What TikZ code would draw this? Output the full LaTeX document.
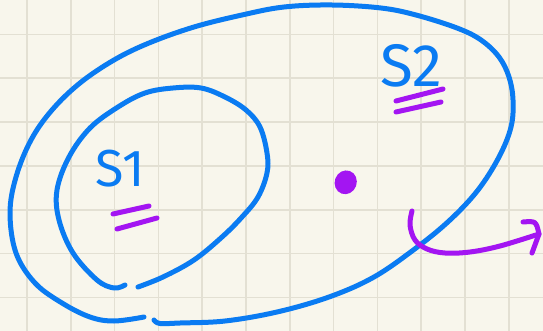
\documentclass[tikz,border=0pt]{standalone}
\usepackage{fontspec}
\setsansfont{Fira Sans}
\definecolor{paper}{HTML}{F8F6EC}
\definecolor{gridline}{HTML}{E3E0D3}
\definecolor{inkblue}{HTML}{0A7BF2}
\definecolor{inkpurple}{HTML}{A315F2}

\begin{document}
\begin{tikzpicture}[x=1pt, y=-1pt, line cap=round, line join=round]
\tikzset{ink/.style={draw=inkblue, line width=5pt},
  pen/.style={draw=inkpurple, line width=5pt},
  tag/.style={text=inkblue, font=\sffamily\fontsize{52}{52}\selectfont, inner sep=0pt}}
\useasboundingbox (0,0) rectangle (543,331);
\fill[paper] (0,0) rectangle (543,331);
\foreach \gx in {0,...,11}
  \draw[gridline, line width=1.6pt] ({27+43.8*\gx},0) -- ({27+43.8*\gx},331);
\foreach \gy in {0,...,6}
  \draw[gridline, line width=1.6pt] (0,{34.5+43.8*\gy}) -- (543,{34.5+43.8*\gy});
% outer region
\draw[ink] plot[smooth, tension=0.6] coordinates {(154,320) (160,323.5) (180,323) (225,321)
  (277,312) (329,297) (374,277) (416,248) (450,220) (478,190) (499,157) (511,127) (513,100)
  (509,77) (499,57) (481,40) (457,28) (416,15) (381,8) (332,5) (284,7) (242,15) (194,27)
  (149,43) (114,60) (80,83) (52,110) (31,140) (16,177) (10,213) (16,253) (35,283) (62,303)
  (90,317) (114,321) (144,317)};
% inner region
\draw[ink] plot[smooth, tension=0.6] coordinates {(138,287) (163,277) (194,260) (222,237)
  (242,217) (258,197) (267,173) (267,153) (260,127) (246,110) (225,97) (201,88) (173,88)
  (145,93) (118,107) (90,128) (69,157) (57,190) (59,220) (73,253) (97,280) (114,288)
  (125,285)};
% labels
\node[tag] (s1) at (120,169) {S1};
\node[tag, font=\sffamily\fontsize{60}{60}\selectfont] (s2) at (411,66) {S2};
\draw[pen] (113,214) -- (149,206);
\draw[pen] (117,229) -- (157,218);
\draw[pen] (396,101) -- (443,89);
\draw[pen] (396,112) -- (441,102);
% point and way out
\fill[inkpurple, rotate around={-20:(345.7,182.3)}] (345.7,182.3) ellipse [x radius=11pt, y radius=12pt];
\coordinate (out) at (539,234);
\draw[pen] plot[smooth, tension=0.6] coordinates {(412,211) (410,225) (415,240) (427,249)
  (445,253) (470,252) (500,246) (out)};
\draw[pen] (523,222) .. controls (536,221) .. (out) -- (532,253);
\end{tikzpicture}
\end{document}
